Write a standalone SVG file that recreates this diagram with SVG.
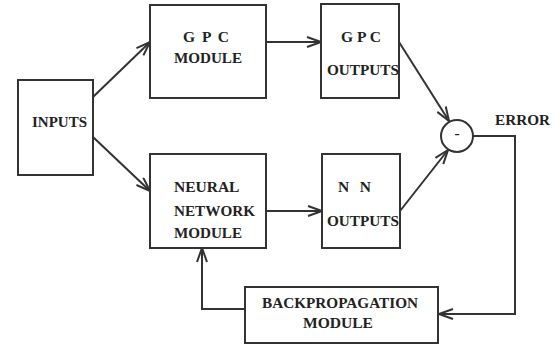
<svg xmlns="http://www.w3.org/2000/svg" width="554" height="348" viewBox="0 0 554 348">
<style>
.box{fill:#ffffff;stroke:#333333;stroke-width:2}
.t{font-family:"Liberation Serif","Times New Roman",serif;font-weight:bold;font-size:15.5px;fill:#222222}
.c{fill:none;stroke:#333333;stroke-width:2}
</style>
<defs>
<marker id="ah" viewBox="0 0 16 12" refX="15" refY="6" markerWidth="16" markerHeight="12" markerUnits="userSpaceOnUse" orient="auto">
<path d="M1,1 L15,6 L1,11" fill="none" stroke="#333333" stroke-width="2"/>
</marker>
</defs>
<rect width="554" height="348" fill="#ffffff"/>
<g id="connectors">
<line class="c" x1="93" y1="97" x2="150" y2="42" marker-end="url(#ah)"/>
<line class="c" x1="93" y1="137" x2="150" y2="191" marker-end="url(#ah)"/>
<line class="c" x1="266" y1="42" x2="321" y2="42" marker-end="url(#ah)"/>
<line class="c" x1="266" y1="211" x2="322" y2="211" marker-end="url(#ah)"/>
<line class="c" x1="399" y1="42" x2="449" y2="121" marker-end="url(#ah)"/>
<line class="c" x1="400" y1="211" x2="448" y2="150" marker-end="url(#ah)"/>
<polyline class="c" points="473,136 515,136 515,314 439,314" marker-end="url(#ah)"/>
<polyline class="c" points="246,309 202,309 202,248" marker-end="url(#ah)"/>
</g>
<g id="inputs">
<rect class="box" x="18" y="80" width="75" height="95"/>
<text class="t" x="32" y="127" textLength="55" lengthAdjust="spacingAndGlyphs">INPUTS</text>
</g>
<g id="gpc-module">
<rect class="box" x="150" y="5" width="116" height="93"/>
<text class="t" x="183" y="42" textLength="46">G P C</text>
<text class="t" x="174" y="63" textLength="68" lengthAdjust="spacingAndGlyphs">MODULE</text>
</g>
<g id="gpc-outputs">
<rect class="box" x="321" y="4" width="78" height="94"/>
<text class="t" x="341" y="42" textLength="40">G P C</text>
<text class="t" x="327" y="75" textLength="72" lengthAdjust="spacingAndGlyphs">OUTPUTS</text>
</g>
<g id="nn-module">
<rect class="box" x="150" y="154" width="116" height="94"/>
<text class="t" x="174" y="192">NEURAL</text>
<text class="t" x="174" y="216" textLength="81" lengthAdjust="spacingAndGlyphs">NETWORK</text>
<text class="t" x="174" y="238" textLength="68" lengthAdjust="spacingAndGlyphs">MODULE</text>
</g>
<g id="nn-outputs">
<rect class="box" x="322" y="154" width="78" height="94"/>
<text class="t" x="338" y="192" textLength="33">N N</text>
<text class="t" x="327" y="226" textLength="72" lengthAdjust="spacingAndGlyphs">OUTPUTS</text>
</g>
<g id="sum">
<circle cx="457" cy="136" r="16" fill="#ffffff" stroke="#333333" stroke-width="2"/>
<text class="t" x="457" y="138" text-anchor="middle">-</text>
</g>
<g id="error-label">
<text class="t" x="495" y="125" textLength="55" lengthAdjust="spacingAndGlyphs">ERROR</text>
</g>
<g id="backprop">
<rect class="box" x="245" y="287" width="193" height="56"/>
<text class="t" x="262" y="308" textLength="156" lengthAdjust="spacingAndGlyphs">BACKPROPAGATION</text>
<text class="t" x="303" y="328" textLength="70" lengthAdjust="spacingAndGlyphs">MODULE</text>
</g>
</svg>
